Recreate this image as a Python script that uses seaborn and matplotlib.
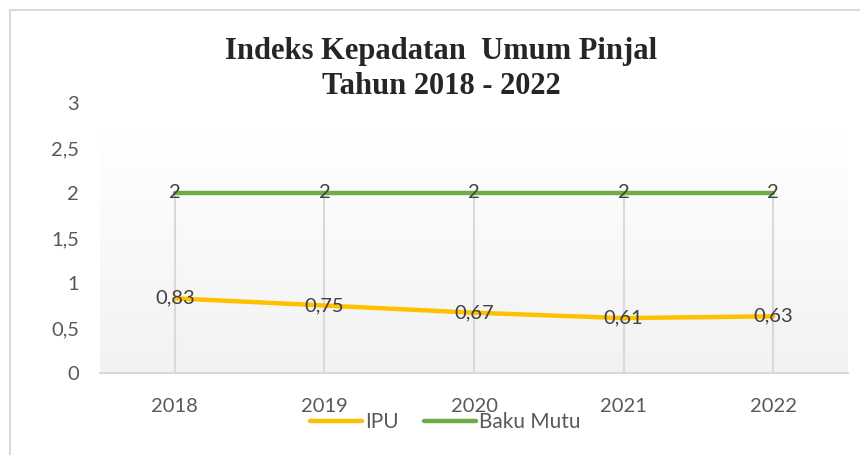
import matplotlib
matplotlib.use('Agg')
import matplotlib.pyplot as plt
from matplotlib.lines import Line2D
import numpy as np
import pandas as pd
import seaborn as sns

years = ['2018', '2019', '2020', '2021', '2022']
ipu = [0.83, 0.75, 0.67, 0.61, 0.63]
baku_mutu = [2, 2, 2, 2, 2]
series_names = ['IPU', 'Baku Mutu']
series_colors = ['#FFC000', '#70AD47']
title = 'Indeks Kepadatan  Umum Pinjal\nTahun 2018 - 2022'

df = pd.DataFrame({
    'Tahun': years * 2,
    'Nilai': ipu + baku_mutu,
    'Seri': [series_names[0]] * len(years) + [series_names[1]] * len(years),
})

sns.set_style('white')
plt.rcParams['font.family'] = ['Lato', 'DejaVu Sans']

fig = plt.figure(figsize=(8.6, 4.55), dpi=100)
ax = fig.add_axes([100 / 860, 1 - 373 / 455, 748 / 860, 270 / 455])

# light vertical gradient behind the plot area
grad = np.linspace(0, 1, 256).reshape(-1, 1)
cmap = matplotlib.colors.LinearSegmentedColormap.from_list('bg', ['#f2f2f2', '#ffffff'])
ax.imshow(grad, aspect='auto', cmap=cmap, origin='lower',
          extent=[-0.5, len(years) - 0.5, 0, 2.67], zorder=0)

sns.lineplot(data=df, x='Tahun', y='Nilai', hue='Seri', palette=series_colors,
             linewidth=3.2, ax=ax, legend=False, zorder=3)

# vertical drop lines from the axis up to the highest series
ax.vlines(range(len(years)), 0, [max(a, b) for a, b in zip(ipu, baku_mutu)],
          color='#d9d9d9', linewidth=1.5, zorder=1)

for name, vals in zip(series_names, [ipu, baku_mutu]):
    for i, v in enumerate(vals):
        ax.text(i, v, f'{v:g}'.replace('.', ','), ha='center', va='center',
                fontsize=14.5, color='#404040', zorder=4)

ax.set_xlim(-0.5, len(years) - 0.5)
ax.set_ylim(0, 3)
ax.set_yticks([0, 0.5, 1, 1.5, 2, 2.5, 3])
ax.set_yticklabels(['0', '0,5', '1', '1,5', '2', '2,5', '3'])
ax.set_xticks(range(len(years)))
ax.set_xticklabels(years)
ax.tick_params(axis='both', length=0, labelsize=14.5, labelcolor='#595959')
ax.tick_params(axis='x', pad=18)
ax.tick_params(axis='y', pad=15)
ax.set_xlabel('')
ax.set_ylabel('')
for side in ['top', 'right', 'left']:
    ax.spines[side].set_visible(False)
ax.spines['bottom'].set_color('#d9d9d9')
ax.spines['bottom'].set_linewidth(1.5)
ax.patch.set_alpha(0)

fig.text(441 / 860, 1 - 69 / 455, title, ha='center', va='center', fontsize=22,
         fontweight='bold', family='Liberation Serif', linespacing=1.25)

handles = [Line2D([], [], color=c, linewidth=3.2, solid_capstyle='round') for c in series_colors]
fig.legend(handles, series_names, loc='center', bbox_to_anchor=(445 / 860, 1 - 422 / 455),
           ncol=2, frameon=False, fontsize=15, labelcolor='#595959',
           handlelength=2.5, handletextpad=0.15, columnspacing=1.2)

# outer chart border (left and top)
fig.add_artist(Line2D([10 / 860, 10 / 860], [0, 1 - 10 / 455], color='#d9d9d9', linewidth=1.5))
fig.add_artist(Line2D([10 / 860, 1], [1 - 10 / 455, 1 - 10 / 455], color='#d9d9d9', linewidth=1.5))

fig.savefig('out.png', dpi=100)
